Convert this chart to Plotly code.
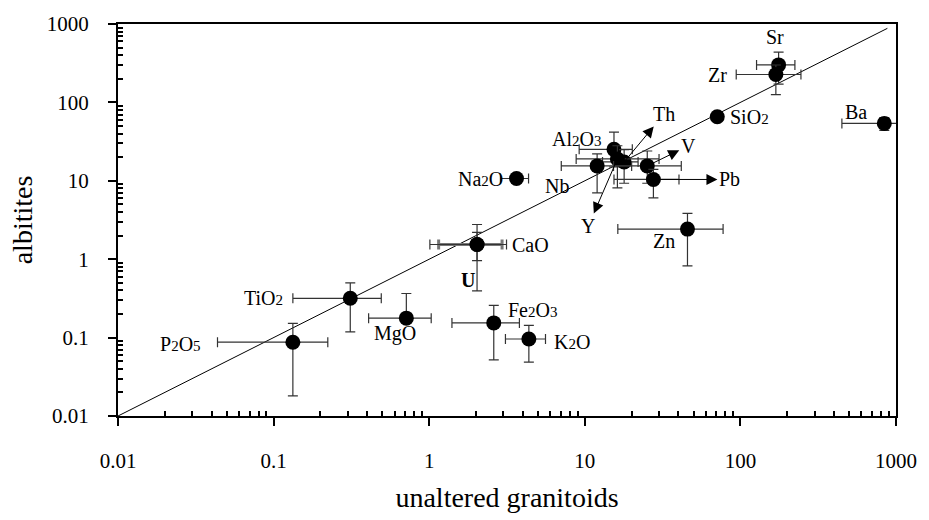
import plotly.graph_objects as go
import math

# ---- data ----
names = ["Sr", "Zr", "Ba", "SiO2", "Al2O3", "Th", "Y", "Nb", "V", "Pb",
         "Na2O", "CaO", "U", "Zn", "TiO2", "P2O5", "MgO", "Fe2O3", "K2O"]
labels = ["Sr", "Zr", "Ba", "SiO<span style='font-size:15px'>2</span>",
          "Al<span style='font-size:15px'>2</span>O<span style='font-size:15px'>3</span>",
          "Th", "Y", "Nb", "V", "Pb",
          "Na<span style='font-size:15px'>2</span>O", "CaO", "<b>U</b>", "Zn",
          "TiO<span style='font-size:15px'>2</span>",
          "P<span style='font-size:15px'>2</span>O<span style='font-size:15px'>5</span>",
          "MgO", "Fe<span style='font-size:15px'>2</span>O<span style='font-size:15px'>3</span>",
          "K<span style='font-size:15px'>2</span>O"]
granitoids = [176, 169, 841, 71, 15.4, 17.9, 16.2, 12.0, 25.2, 27.6,
              3.64, 2.03, 2.03, 45.7, 0.311, 0.133, 0.713, 2.60, 4.37]
albitites = [301, 227, 54, 65.5, 25.2, 17.4, 19.0, 15.5, 15.5, 10.4,
             10.7, 1.54, 1.54, 2.42, 0.317, 0.0873, 0.177, 0.154, 0.096]
gran_lo = [127, 94, 449, 71, 9.2, 13, 8.8, 7.06, 15.3, 15.4,
           2.87, 1.15, 1.01, 16.3, 0.133, 0.0436, 0.408, 1.40, 3.09]
gran_hi = [224, 245, 1500, 71, 20.2, 22, 30, 20, 41.7, 40.3,
           4.35, 2.94, 3.14, 77.4, 0.492, 0.223, 1.03, 3.80, 5.59]
alb_lo = [171, 126, 44, 65.5, 15, 9.3, 8.1, 7.0, 9.3, 6.05,
          10.7, 0.96, 0.394, 0.82, 0.118, 0.0181, 0.177, 0.0519, 0.0487]
alb_hi = [438, 300, 64, 65.5, 41.7, 25, 28, 22, 24, 14,
          10.7, 2.77, 2.2, 3.85, 0.498, 0.152, 0.365, 0.258, 0.1436]

line_x = [0.01, 880]
line_y = [0.01, 880]

tick_vals = [0.01, 0.1, 1, 10, 100, 1000]
tick_text = ["0.01", "0.1", "1", "10", "100", "1000"]

# label placement (style): (xshift, yshift, xanchor) or arrow offsets
label_pos = {
    "Sr": (-4, 28, "center"), "Zr": (-47, -1, "right"), "Ba": (-28, 11, "center"),
    "SiO2": (11, 0, "left"), "Al2O3": (-11, 10, "right"), "Nb": (-40, -20, "center"),
    "Na2O": (-12, 0, "right"), "CaO": (33, 0, "left"), "U": (-9, -35, "center"),
    "Zn": (-23, -12, "center"), "TiO2": (-65, 0, "right"), "P2O5": (-90, -2, "right"),
    "MgO": (-11, -15, "center"), "Fe2O3": (12, 13, "left"), "K2O": (23, -3, "left"),
}
arrow_pos = {"Th": (40, -48), "V": (41, -20), "Y": (-29, 67), "Pb": (76, 0)}

FONT = "Liberation Serif"

fig = go.Figure()
fig.add_trace(go.Scatter(x=line_x, y=line_y, mode="lines",
                         line=dict(color="black", width=1), hoverinfo="skip"))

for i, n in enumerate(names):
    x, y = granitoids[i], albitites[i]
    xcol, xth = ("#777777", 3) if n == "CaO" else ("#333333", 1.2)
    fig.add_trace(go.Scatter(
        x=[x], y=[y], mode="markers", name=n,
        marker=dict(color="black", size=15),
        error_x=dict(type="data", symmetric=False, array=[gran_hi[i] - x],
                     arrayminus=[x - gran_lo[i]], color=xcol, thickness=xth, width=5,
                     visible=gran_hi[i] != gran_lo[i]),
        error_y=dict(type="data", symmetric=False, array=[alb_hi[i] - y],
                     arrayminus=[y - alb_lo[i]], color="#333333", thickness=1.2, width=5,
                     visible=alb_hi[i] != alb_lo[i]),
    ))

# invisible trace so that the minor-tick overlay axes are drawn
fig.add_trace(go.Scatter(x=line_x, y=line_y, xaxis="x2", yaxis="y2", mode="markers",
                         marker=dict(opacity=0), hoverinfo="skip"))

anns = []
for i, n in enumerate(names):
    lx, ly = math.log10(granitoids[i]), math.log10(albitites[i])
    if n in label_pos:
        dx, dy, anc = label_pos[n]
        anns.append(dict(x=lx, y=ly, xref="x", yref="y", text=labels[i], showarrow=False,
                         xshift=dx, yshift=dy, xanchor=anc, yanchor="middle",
                         font=dict(family=FONT, size=20, color="black")))
    elif n in arrow_pos:
        ax, ay = arrow_pos[n]
        anns.append(dict(x=lx, y=ly, xref="x", yref="y", text=labels[i], showarrow=True,
                         ax=ax, ay=ay, arrowside="start",
                         startarrowhead=2, startarrowsize=2.2,
                         arrowhead=2, arrowsize=2.2,
                         arrowwidth=1.0, arrowcolor="black", standoff=0, startstandoff=0,
                         font=dict(family=FONT, size=20, color="black")))

minor_vals = [k * 10 ** e for e in range(-2, 3) for k in range(2, 10)]

axis_common = dict(type="log", range=[-2, 3], showgrid=False, zeroline=False,
                   showline=True, linecolor="black", linewidth=2, mirror=True,
                   ticks="outside", ticklen=8, tickwidth=2, tickcolor="black",
                   tickmode="array", tickvals=tick_vals, ticktext=tick_text,
                   tickfont=dict(family=FONT, size=21, color="black"))
minor_common = dict(type="log", range=[-2, 3], showgrid=False, zeroline=False,
                    showline=False, ticks="inside", ticklen=5, tickwidth=2,
                    tickcolor="black", tickmode="array", tickvals=minor_vals,
                    showticklabels=False)

fig.update_layout(
    width=929, height=520, showlegend=False,
    margin=dict(l=118, r=32, t=17, b=95),
    paper_bgcolor="white", plot_bgcolor="white",
    font=dict(family=FONT, color="black"),
    xaxis=dict(ticklabelstandoff=17,
               title=dict(text="unaltered granitoids", standoff=15,
                          font=dict(family=FONT, size=28, color="black")),
               **axis_common),
    yaxis=dict(ticklabelstandoff=15,
               title=dict(text="albitites", standoff=6,
                          font=dict(family=FONT, size=28, color="black")),
               **axis_common),
    xaxis2=dict(overlaying="x", side="bottom", anchor="y2", **minor_common),
    yaxis2=dict(overlaying="y", side="left", anchor="x2", **minor_common),
    annotations=anns,
)

fig.write_html("out.html")
